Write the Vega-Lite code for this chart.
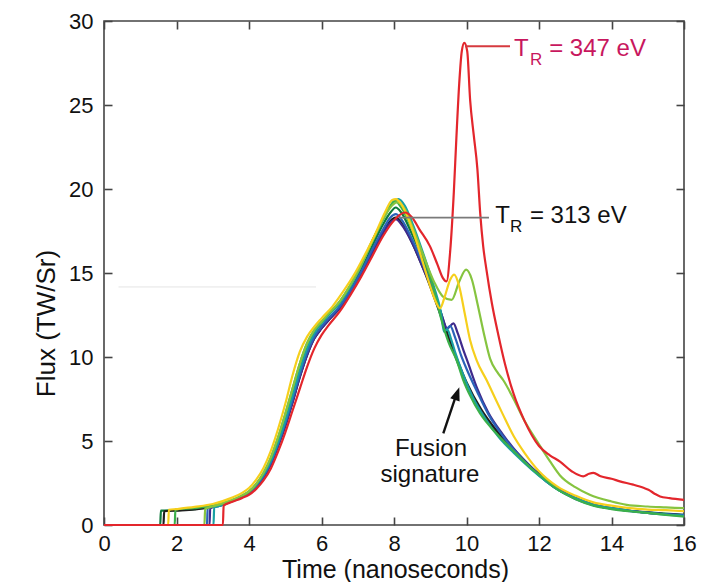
{
  "$schema": "https://vega.github.io/schema/vega-lite/v6.json",
  "width": 580,
  "height": 504,
  "autosize": {"type": "none"},
  "padding": {"left": 104, "top": 21, "right": 32, "bottom": 57},
  "background": "white",
  "config": {
    "font": "Liberation Sans",
    "view": {"stroke": "#444444", "strokeWidth": 1.6},
    "axis": {
      "grid": false,
      "domain": false,
      "tickColor": "#444444",
      "tickWidth": 1.6,
      "tickSize": -8,
      "labelFont": "Liberation Sans",
      "labelFontSize": 22,
      "labelColor": "#111111",
      "titleFont": "Liberation Sans",
      "titleFontSize": 25,
      "titleFontWeight": "normal",
      "titleColor": "#111111"
    }
  },
  "datasets": {
    "curves": [
      {"s":"darkgreen","x":0,"y":0},{"s":"darkgreen","x":1.55,"y":0},{"s":"darkgreen","x":1.57,"y":0.85},{"s":"darkgreen","x":2.0,"y":0.88},{"s":"darkgreen","x":2.5,"y":0.95},{"s":"darkgreen","x":3.0,"y":1.1},{"s":"darkgreen","x":3.5,"y":1.4},{"s":"darkgreen","x":3.8,"y":1.65},{"s":"darkgreen","x":4.0,"y":1.9},{"s":"darkgreen","x":4.2,"y":2.3},{"s":"darkgreen","x":4.4,"y":2.85},{"s":"darkgreen","x":4.6,"y":3.65},{"s":"darkgreen","x":4.8,"y":4.75},{"s":"darkgreen","x":5.0,"y":6.0},{"s":"darkgreen","x":5.2,"y":7.4},{"s":"darkgreen","x":5.4,"y":8.9},{"s":"darkgreen","x":5.6,"y":10.2},{"s":"darkgreen","x":5.8,"y":11.2},{"s":"darkgreen","x":6.0,"y":11.8},{"s":"darkgreen","x":6.2,"y":12.3},{"s":"darkgreen","x":6.5,"y":13.0},{"s":"darkgreen","x":6.8,"y":14.0},{"s":"darkgreen","x":7.1,"y":15.2},{"s":"darkgreen","x":7.4,"y":16.6},{"s":"darkgreen","x":7.7,"y":17.9},{"s":"darkgreen","x":7.9,"y":18.6},{"s":"darkgreen","x":8.05,"y":18.9},{"s":"darkgreen","x":8.2,"y":18.6},{"s":"darkgreen","x":8.5,"y":17.3},{"s":"darkgreen","x":8.8,"y":15.8},{"s":"darkgreen","x":9.1,"y":14.0},{"s":"darkgreen","x":9.3,"y":12.6},{"s":"darkgreen","x":9.5,"y":11.2},{"s":"darkgreen","x":9.75,"y":9.7},{"s":"darkgreen","x":10.0,"y":8.4},{"s":"darkgreen","x":10.4,"y":6.8},{"s":"darkgreen","x":10.8,"y":5.6},{"s":"darkgreen","x":11.3,"y":4.5},{"s":"darkgreen","x":11.8,"y":3.4},{"s":"darkgreen","x":12.2,"y":2.6},{"s":"darkgreen","x":12.6,"y":2.0},{"s":"darkgreen","x":13.0,"y":1.6},{"s":"darkgreen","x":13.5,"y":1.2},{"s":"darkgreen","x":14.0,"y":1.0},{"s":"darkgreen","x":14.5,"y":0.85},{"s":"darkgreen","x":15.0,"y":0.75},{"s":"darkgreen","x":15.5,"y":0.68},{"s":"darkgreen","x":16.0,"y":0.6},

      {"s":"black","x":0,"y":0},{"s":"black","x":1.64,"y":0},{"s":"black","x":1.66,"y":0.82},{"s":"black","x":2.0,"y":0.86},{"s":"black","x":2.5,"y":0.93},{"s":"black","x":3.0,"y":1.08},{"s":"black","x":3.5,"y":1.4},{"s":"black","x":3.8,"y":1.65},{"s":"black","x":4.0,"y":1.9},{"s":"black","x":4.2,"y":2.3},{"s":"black","x":4.4,"y":2.85},{"s":"black","x":4.6,"y":3.65},{"s":"black","x":4.8,"y":4.7},{"s":"black","x":5.0,"y":5.9},{"s":"black","x":5.2,"y":7.3},{"s":"black","x":5.4,"y":8.8},{"s":"black","x":5.6,"y":10.1},{"s":"black","x":5.8,"y":11.1},{"s":"black","x":6.0,"y":11.7},{"s":"black","x":6.2,"y":12.2},{"s":"black","x":6.5,"y":12.9},{"s":"black","x":6.8,"y":13.8},{"s":"black","x":7.1,"y":14.9},{"s":"black","x":7.4,"y":16.2},{"s":"black","x":7.7,"y":17.4},{"s":"black","x":7.9,"y":18.1},{"s":"black","x":8.05,"y":18.3},{"s":"black","x":8.2,"y":18.0},{"s":"black","x":8.5,"y":16.8},{"s":"black","x":8.8,"y":15.3},{"s":"black","x":9.1,"y":13.6},{"s":"black","x":9.3,"y":12.4},{"s":"black","x":9.5,"y":11.2},{"s":"black","x":9.75,"y":9.8},{"s":"black","x":10.0,"y":8.5},{"s":"black","x":10.4,"y":6.9},{"s":"black","x":10.8,"y":5.7},{"s":"black","x":11.3,"y":4.5},{"s":"black","x":11.8,"y":3.4},{"s":"black","x":12.2,"y":2.7},{"s":"black","x":12.6,"y":2.05},{"s":"black","x":13.0,"y":1.6},{"s":"black","x":13.5,"y":1.2},{"s":"black","x":14.0,"y":0.98},{"s":"black","x":14.5,"y":0.85},{"s":"black","x":15.0,"y":0.72},{"s":"black","x":15.5,"y":0.65},{"s":"black","x":16.0,"y":0.58},

      {"s":"purple","x":0,"y":0},{"s":"purple","x":2.91,"y":0},{"s":"purple","x":2.93,"y":1.0},{"s":"purple","x":3.2,"y":1.15},{"s":"purple","x":3.5,"y":1.4},{"s":"purple","x":3.8,"y":1.65},{"s":"purple","x":4.0,"y":1.9},{"s":"purple","x":4.2,"y":2.3},{"s":"purple","x":4.4,"y":2.85},{"s":"purple","x":4.6,"y":3.6},{"s":"purple","x":4.8,"y":4.7},{"s":"purple","x":5.0,"y":5.9},{"s":"purple","x":5.2,"y":7.3},{"s":"purple","x":5.4,"y":8.8},{"s":"purple","x":5.6,"y":10.1},{"s":"purple","x":5.8,"y":11.1},{"s":"purple","x":6.0,"y":11.7},{"s":"purple","x":6.2,"y":12.2},{"s":"purple","x":6.5,"y":12.9},{"s":"purple","x":6.8,"y":13.8},{"s":"purple","x":7.1,"y":14.9},{"s":"purple","x":7.4,"y":16.2},{"s":"purple","x":7.7,"y":17.4},{"s":"purple","x":7.9,"y":18.0},{"s":"purple","x":8.05,"y":18.2},{"s":"purple","x":8.2,"y":17.9},{"s":"purple","x":8.5,"y":16.8},{"s":"purple","x":8.8,"y":15.3},{"s":"purple","x":9.1,"y":13.8},{"s":"purple","x":9.3,"y":12.6},{"s":"purple","x":9.47,"y":11.7},{"s":"purple","x":9.64,"y":12.0},{"s":"purple","x":9.76,"y":11.4},{"s":"purple","x":9.9,"y":10.5},{"s":"purple","x":10.05,"y":9.6},{"s":"purple","x":10.3,"y":8.1},{"s":"purple","x":10.6,"y":6.7},{"s":"purple","x":11.0,"y":5.4},{"s":"purple","x":11.4,"y":4.3},{"s":"purple","x":11.8,"y":3.4},{"s":"purple","x":12.2,"y":2.65},{"s":"purple","x":12.6,"y":2.05},{"s":"purple","x":13.0,"y":1.6},{"s":"purple","x":13.5,"y":1.2},{"s":"purple","x":14.0,"y":1.0},{"s":"purple","x":14.5,"y":0.85},{"s":"purple","x":15.0,"y":0.75},{"s":"purple","x":15.5,"y":0.65},{"s":"purple","x":16.0,"y":0.6},

      {"s":"blue","x":0,"y":0},{"s":"blue","x":2.84,"y":0},{"s":"blue","x":2.86,"y":1.0},{"s":"blue","x":3.2,"y":1.15},{"s":"blue","x":3.5,"y":1.42},{"s":"blue","x":3.8,"y":1.68},{"s":"blue","x":4.0,"y":1.92},{"s":"blue","x":4.2,"y":2.32},{"s":"blue","x":4.4,"y":2.9},{"s":"blue","x":4.6,"y":3.7},{"s":"blue","x":4.8,"y":4.8},{"s":"blue","x":5.0,"y":6.05},{"s":"blue","x":5.2,"y":7.45},{"s":"blue","x":5.4,"y":8.95},{"s":"blue","x":5.6,"y":10.25},{"s":"blue","x":5.8,"y":11.2},{"s":"blue","x":6.0,"y":11.8},{"s":"blue","x":6.2,"y":12.3},{"s":"blue","x":6.5,"y":13.0},{"s":"blue","x":6.8,"y":13.95},{"s":"blue","x":7.1,"y":15.1},{"s":"blue","x":7.4,"y":16.4},{"s":"blue","x":7.7,"y":17.6},{"s":"blue","x":7.9,"y":18.3},{"s":"blue","x":8.05,"y":18.5},{"s":"blue","x":8.2,"y":18.2},{"s":"blue","x":8.5,"y":17.0},{"s":"blue","x":8.8,"y":15.5},{"s":"blue","x":9.1,"y":13.8},{"s":"blue","x":9.3,"y":12.4},{"s":"blue","x":9.42,"y":11.6},{"s":"blue","x":9.55,"y":11.85},{"s":"blue","x":9.68,"y":11.2},{"s":"blue","x":9.85,"y":10.1},{"s":"blue","x":10.0,"y":9.3},{"s":"blue","x":10.3,"y":7.9},{"s":"blue","x":10.6,"y":6.6},{"s":"blue","x":11.0,"y":5.3},{"s":"blue","x":11.4,"y":4.25},{"s":"blue","x":11.8,"y":3.35},{"s":"blue","x":12.2,"y":2.6},{"s":"blue","x":12.6,"y":2.0},{"s":"blue","x":13.0,"y":1.55},{"s":"blue","x":13.5,"y":1.18},{"s":"blue","x":14.0,"y":0.98},{"s":"blue","x":14.5,"y":0.82},{"s":"blue","x":15.0,"y":0.72},{"s":"blue","x":15.5,"y":0.64},{"s":"blue","x":16.0,"y":0.58},

      {"s":"teal","x":0,"y":0},{"s":"teal","x":3.02,"y":0},{"s":"teal","x":3.04,"y":1.05},{"s":"teal","x":3.3,"y":1.2},{"s":"teal","x":3.5,"y":1.4},{"s":"teal","x":3.8,"y":1.7},{"s":"teal","x":4.0,"y":1.95},{"s":"teal","x":4.2,"y":2.4},{"s":"teal","x":4.4,"y":3.0},{"s":"teal","x":4.6,"y":3.8},{"s":"teal","x":4.8,"y":4.9},{"s":"teal","x":5.0,"y":6.2},{"s":"teal","x":5.2,"y":7.7},{"s":"teal","x":5.4,"y":9.2},{"s":"teal","x":5.6,"y":10.5},{"s":"teal","x":5.8,"y":11.4},{"s":"teal","x":6.0,"y":12.0},{"s":"teal","x":6.2,"y":12.5},{"s":"teal","x":6.5,"y":13.2},{"s":"teal","x":6.8,"y":14.2},{"s":"teal","x":7.1,"y":15.5},{"s":"teal","x":7.4,"y":16.9},{"s":"teal","x":7.7,"y":18.2},{"s":"teal","x":7.9,"y":19.0},{"s":"teal","x":8.12,"y":19.4},{"s":"teal","x":8.3,"y":19.0},{"s":"teal","x":8.5,"y":18.0},{"s":"teal","x":8.8,"y":16.2},{"s":"teal","x":9.1,"y":14.2},{"s":"teal","x":9.3,"y":12.6},{"s":"teal","x":9.38,"y":11.5},{"s":"teal","x":9.47,"y":11.65},{"s":"teal","x":9.57,"y":11.1},{"s":"teal","x":9.7,"y":10.2},{"s":"teal","x":9.9,"y":9.0},{"s":"teal","x":10.2,"y":7.5},{"s":"teal","x":10.5,"y":6.4},{"s":"teal","x":10.9,"y":5.2},{"s":"teal","x":11.3,"y":4.3},{"s":"teal","x":11.8,"y":3.3},{"s":"teal","x":12.2,"y":2.6},{"s":"teal","x":12.6,"y":2.0},{"s":"teal","x":13.0,"y":1.6},{"s":"teal","x":13.5,"y":1.2},{"s":"teal","x":14.0,"y":1.0},{"s":"teal","x":14.5,"y":0.85},{"s":"teal","x":15.0,"y":0.72},{"s":"teal","x":15.5,"y":0.62},{"s":"teal","x":16.0,"y":0.55},

      {"s":"green","x":0,"y":0},{"s":"green","x":1.95,"y":0},{"s":"green","x":1.97,"y":0.92},{"s":"green","x":2.5,"y":1.0},{"s":"green","x":3.0,"y":1.15},{"s":"green","x":3.5,"y":1.45},{"s":"green","x":3.8,"y":1.75},{"s":"green","x":4.0,"y":2.0},{"s":"green","x":4.2,"y":2.45},{"s":"green","x":4.4,"y":3.1},{"s":"green","x":4.6,"y":4.0},{"s":"green","x":4.8,"y":5.2},{"s":"green","x":5.0,"y":6.6},{"s":"green","x":5.2,"y":8.1},{"s":"green","x":5.4,"y":9.6},{"s":"green","x":5.6,"y":10.8},{"s":"green","x":5.8,"y":11.6},{"s":"green","x":6.0,"y":12.1},{"s":"green","x":6.2,"y":12.6},{"s":"green","x":6.5,"y":13.3},{"s":"green","x":6.8,"y":14.3},{"s":"green","x":7.1,"y":15.5},{"s":"green","x":7.4,"y":16.9},{"s":"green","x":7.7,"y":18.2},{"s":"green","x":7.9,"y":19.0},{"s":"green","x":8.02,"y":19.3},{"s":"green","x":8.2,"y":18.9},{"s":"green","x":8.5,"y":17.6},{"s":"green","x":8.81,"y":16.0},{"s":"green","x":9.1,"y":14.0},{"s":"green","x":9.31,"y":12.2},{"s":"green","x":9.5,"y":10.9},{"s":"green","x":9.73,"y":9.8},{"s":"green","x":9.91,"y":8.63},{"s":"green","x":10.1,"y":7.7},{"s":"green","x":10.37,"y":6.65},{"s":"green","x":10.8,"y":5.5},{"s":"green","x":11.3,"y":4.4},{"s":"green","x":11.8,"y":3.35},{"s":"green","x":12.2,"y":2.65},{"s":"green","x":12.6,"y":2.0},{"s":"green","x":13.0,"y":1.55},{"s":"green","x":13.5,"y":1.15},{"s":"green","x":14.0,"y":0.95},{"s":"green","x":14.5,"y":0.82},{"s":"green","x":15.0,"y":0.72},{"s":"green","x":15.5,"y":0.6},{"s":"green","x":16.0,"y":0.5},

      {"s":"lightgreen","x":0,"y":0},{"s":"lightgreen","x":2.77,"y":0},{"s":"lightgreen","x":2.79,"y":0.95},{"s":"lightgreen","x":3.0,"y":1.1},{"s":"lightgreen","x":3.5,"y":1.45},{"s":"lightgreen","x":3.8,"y":1.75},{"s":"lightgreen","x":4.0,"y":2.0},{"s":"lightgreen","x":4.2,"y":2.45},{"s":"lightgreen","x":4.4,"y":3.1},{"s":"lightgreen","x":4.6,"y":4.0},{"s":"lightgreen","x":4.8,"y":5.2},{"s":"lightgreen","x":5.0,"y":6.6},{"s":"lightgreen","x":5.2,"y":8.1},{"s":"lightgreen","x":5.4,"y":9.6},{"s":"lightgreen","x":5.6,"y":10.8},{"s":"lightgreen","x":5.8,"y":11.6},{"s":"lightgreen","x":6.0,"y":12.1},{"s":"lightgreen","x":6.2,"y":12.6},{"s":"lightgreen","x":6.5,"y":13.3},{"s":"lightgreen","x":6.8,"y":14.3},{"s":"lightgreen","x":7.1,"y":15.5},{"s":"lightgreen","x":7.4,"y":16.9},{"s":"lightgreen","x":7.7,"y":18.2},{"s":"lightgreen","x":7.9,"y":18.9},{"s":"lightgreen","x":8.08,"y":19.2},{"s":"lightgreen","x":8.3,"y":18.8},{"s":"lightgreen","x":8.5,"y":17.8},{"s":"lightgreen","x":8.8,"y":16.1},{"s":"lightgreen","x":9.1,"y":14.5},{"s":"lightgreen","x":9.35,"y":13.6},{"s":"lightgreen","x":9.59,"y":13.4},{"s":"lightgreen","x":9.8,"y":14.5},{"s":"lightgreen","x":9.99,"y":15.2},{"s":"lightgreen","x":10.15,"y":14.6},{"s":"lightgreen","x":10.3,"y":13.2},{"s":"lightgreen","x":10.5,"y":11.2},{"s":"lightgreen","x":10.65,"y":9.9},{"s":"lightgreen","x":10.85,"y":9.1},{"s":"lightgreen","x":11.02,"y":8.6},{"s":"lightgreen","x":11.3,"y":7.5},{"s":"lightgreen","x":11.6,"y":6.2},{"s":"lightgreen","x":12.0,"y":4.8},{"s":"lightgreen","x":12.3,"y":3.8},{"s":"lightgreen","x":12.58,"y":2.95},{"s":"lightgreen","x":13.0,"y":2.25},{"s":"lightgreen","x":13.4,"y":1.8},{"s":"lightgreen","x":14.0,"y":1.4},{"s":"lightgreen","x":14.42,"y":1.2},{"s":"lightgreen","x":15.0,"y":1.1},{"s":"lightgreen","x":15.5,"y":1.05},{"s":"lightgreen","x":16.0,"y":1.0},

      {"s":"yellow","x":0,"y":0},{"s":"yellow","x":1.77,"y":0},{"s":"yellow","x":1.79,"y":0.9},{"s":"yellow","x":2.0,"y":0.95},{"s":"yellow","x":2.5,"y":1.08},{"s":"yellow","x":3.0,"y":1.25},{"s":"yellow","x":3.5,"y":1.6},{"s":"yellow","x":3.8,"y":1.9},{"s":"yellow","x":4.0,"y":2.2},{"s":"yellow","x":4.2,"y":2.7},{"s":"yellow","x":4.4,"y":3.4},{"s":"yellow","x":4.6,"y":4.4},{"s":"yellow","x":4.8,"y":5.7},{"s":"yellow","x":5.0,"y":7.2},{"s":"yellow","x":5.2,"y":8.9},{"s":"yellow","x":5.4,"y":10.3},{"s":"yellow","x":5.6,"y":11.2},{"s":"yellow","x":5.8,"y":11.8},{"s":"yellow","x":6.0,"y":12.3},{"s":"yellow","x":6.3,"y":13.0},{"s":"yellow","x":6.6,"y":13.9},{"s":"yellow","x":6.9,"y":14.9},{"s":"yellow","x":7.2,"y":16.1},{"s":"yellow","x":7.5,"y":17.4},{"s":"yellow","x":7.75,"y":18.6},{"s":"yellow","x":7.95,"y":19.35},{"s":"yellow","x":8.05,"y":19.4},{"s":"yellow","x":8.2,"y":19.1},{"s":"yellow","x":8.4,"y":18.2},{"s":"yellow","x":8.6,"y":17.0},{"s":"yellow","x":8.8,"y":15.6},{"s":"yellow","x":9.0,"y":14.2},{"s":"yellow","x":9.15,"y":13.3},{"s":"yellow","x":9.27,"y":12.9},{"s":"yellow","x":9.4,"y":13.6},{"s":"yellow","x":9.55,"y":14.6},{"s":"yellow","x":9.66,"y":14.9},{"s":"yellow","x":9.8,"y":14.2},{"s":"yellow","x":9.95,"y":12.6},{"s":"yellow","x":10.1,"y":11.0},{"s":"yellow","x":10.28,"y":9.8},{"s":"yellow","x":10.56,"y":8.6},{"s":"yellow","x":10.8,"y":7.5},{"s":"yellow","x":11.0,"y":6.6},{"s":"yellow","x":11.3,"y":5.3},{"s":"yellow","x":11.6,"y":4.3},{"s":"yellow","x":12.0,"y":3.2},{"s":"yellow","x":12.5,"y":2.3},{"s":"yellow","x":13.0,"y":1.75},{"s":"yellow","x":13.5,"y":1.35},{"s":"yellow","x":14.0,"y":1.15},{"s":"yellow","x":14.5,"y":1.0},{"s":"yellow","x":15.0,"y":0.92},{"s":"yellow","x":15.5,"y":0.88},{"s":"yellow","x":16.0,"y":0.82},

      {"s":"red","x":0,"y":0},{"s":"red","x":3.28,"y":0},{"s":"red","x":3.3,"y":1.15},{"s":"red","x":3.5,"y":1.35},{"s":"red","x":3.8,"y":1.6},{"s":"red","x":4.0,"y":1.8},{"s":"red","x":4.2,"y":2.15},{"s":"red","x":4.4,"y":2.65},{"s":"red","x":4.6,"y":3.35},{"s":"red","x":4.8,"y":4.35},{"s":"red","x":5.0,"y":5.5},{"s":"red","x":5.2,"y":6.8},{"s":"red","x":5.4,"y":8.1},{"s":"red","x":5.6,"y":9.4},{"s":"red","x":5.8,"y":10.5},{"s":"red","x":6.0,"y":11.3},{"s":"red","x":6.2,"y":11.9},{"s":"red","x":6.5,"y":12.7},{"s":"red","x":6.8,"y":13.7},{"s":"red","x":7.1,"y":14.8},{"s":"red","x":7.4,"y":16.0},{"s":"red","x":7.7,"y":17.2},{"s":"red","x":7.95,"y":18.0},{"s":"red","x":8.15,"y":18.45},{"s":"red","x":8.3,"y":18.6},{"s":"red","x":8.5,"y":18.3},{"s":"red","x":8.7,"y":17.6},{"s":"red","x":8.99,"y":16.6},{"s":"red","x":9.2,"y":15.5},{"s":"red","x":9.35,"y":14.7},{"s":"red","x":9.45,"y":14.5},{"s":"red","x":9.55,"y":16.3},{"s":"red","x":9.65,"y":19.8},{"s":"red","x":9.72,"y":23.0},{"s":"red","x":9.8,"y":26.3},{"s":"red","x":9.87,"y":28.2},{"s":"red","x":9.94,"y":28.7},{"s":"red","x":10.02,"y":28.2},{"s":"red","x":10.1,"y":25.3},{"s":"red","x":10.2,"y":23.2},{"s":"red","x":10.3,"y":21.2},{"s":"red","x":10.38,"y":18.5},{"s":"red","x":10.46,"y":16.6},{"s":"red","x":10.55,"y":15.2},{"s":"red","x":10.7,"y":13.2},{"s":"red","x":10.88,"y":11.3},{"s":"red","x":11.06,"y":9.6},{"s":"red","x":11.3,"y":7.8},{"s":"red","x":11.6,"y":6.2},{"s":"red","x":12.0,"y":4.7},{"s":"red","x":12.3,"y":4.15},{"s":"red","x":12.58,"y":3.77},{"s":"red","x":12.9,"y":3.2},{"s":"red","x":13.22,"y":2.9},{"s":"red","x":13.38,"y":3.05},{"s":"red","x":13.5,"y":3.1},{"s":"red","x":13.7,"y":2.9},{"s":"red","x":14.0,"y":2.75},{"s":"red","x":14.23,"y":2.6},{"s":"red","x":14.6,"y":2.4},{"s":"red","x":14.9,"y":2.2},{"s":"red","x":15.02,"y":2.1},{"s":"red","x":15.2,"y":1.85},{"s":"red","x":15.34,"y":1.7},{"s":"red","x":15.6,"y":1.6},{"s":"red","x":16.0,"y":1.5}
    ]
  },
  "layer": [
    {
      "data": {"values": [{"x": 0.4, "x2": 5.85, "y": 14.17}]},
      "mark": {"type": "rule", "color": "#e4e4e4", "strokeWidth": 1},
      "encoding": {
        "x": {"field": "x", "type": "quantitative", "axis": null},
        "x2": {"field": "x2"},
        "y": {"field": "y", "type": "quantitative", "axis": null}
      }
    },
    {
      "data": {"name": "curves"},
      "mark": {"type": "line", "interpolate": "monotone", "strokeWidth": 2.2},
      "encoding": {
        "x": {
          "field": "x", "type": "quantitative",
          "scale": {"domain": [0, 16], "nice": false, "zero": false},
          "axis": {"orient": "bottom", "values": [0, 2, 4, 6, 8, 10, 12, 14, 16], "labelPadding": 16, "title": "Time (nanoseconds)", "titleX": 291, "titleY": 44, "titleBaseline": "middle", "labelFlush": false}
        },
        "y": {
          "field": "y", "type": "quantitative",
          "scale": {"domain": [0, 30], "nice": false},
          "axis": {"orient": "left", "values": [0, 5, 10, 15, 20, 25, 30], "labelPadding": 19, "title": "Flux (TW/Sr)", "titleFontSize": 26, "titleX": -58, "titleY": 302, "titleAngle": -90, "titleAlign": "center", "titleBaseline": "middle"}
        },
        "color": {
          "field": "s", "type": "nominal", "legend": null,
          "sort": ["darkgreen", "black", "purple", "blue", "teal", "green", "lightgreen", "yellow", "red"],
          "scale": {
            "domain": ["darkgreen", "black", "purple", "blue", "teal", "green", "lightgreen", "yellow", "red"],
            "range": ["#0f7a3c", "#1f1f1f", "#3f2a8c", "#2b62b8", "#19a0a3", "#3bb04a", "#86c440", "#f6cf1c", "#e3262c"]
          }
        }
      }
    },
    {
      "data": {"values": [{"x": 8.15, "x2": 10.62, "y": 18.3}]},
      "mark": {"type": "rule", "color": "#7a7a7a", "strokeWidth": 1.8},
      "encoding": {
        "x": {"field": "x", "type": "quantitative", "axis": {"orient": "top", "values": [0, 2, 4, 6, 8, 10, 12, 14, 16], "labels": false, "title": null}},
        "x2": {"field": "x2"},
        "y": {"field": "y", "type": "quantitative", "axis": {"orient": "right", "values": [0, 5, 10, 15, 20, 25, 30], "labels": false, "title": null}}
      }
    },
    {
      "data": {"values": [{"x": 9.96, "x2": 11.2, "y": 28.5}]},
      "mark": {"type": "rule", "color": "#d63a3f", "strokeWidth": 2},
      "encoding": {
        "x": {"field": "x", "type": "quantitative", "axis": null},
        "x2": {"field": "x2"},
        "y": {"field": "y", "type": "quantitative", "axis": null}
      }
    },
    {
      "data": {"values": [{"x": 9.36, "y": 5.46, "x2": 9.74, "y2": 7.9}]},
      "mark": {"type": "rule", "color": "#111111", "strokeWidth": 2.4},
      "encoding": {
        "x": {"field": "x", "type": "quantitative", "axis": null},
        "y": {"field": "y", "type": "quantitative", "axis": null},
        "x2": {"field": "x2"},
        "y2": {"field": "y2"}
      }
    },
    {
      "data": {"values": [{"x": 9.738, "y": 7.8}]},
      "mark": {"type": "point", "shape": "M0,-1L0.7,0.9L-0.7,0.9Z", "filled": true, "color": "#111111", "opacity": 1, "size": 200, "angle": 19},
      "encoding": {
        "x": {"field": "x", "type": "quantitative", "axis": null},
        "y": {"field": "y", "type": "quantitative", "axis": null}
      }
    },
    {
      "data": {"values": [{"x": 10.79, "y": 18.39, "t": "T"}, {"x": 11.75, "y": 18.39, "t": "= 313 eV"}]},
      "mark": {"type": "text", "align": "left", "baseline": "middle", "fontSize": 24, "color": "#111111", "font": "Liberation Sans"},
      "encoding": {
        "x": {"field": "x", "type": "quantitative", "axis": null},
        "y": {"field": "y", "type": "quantitative", "axis": null},
        "text": {"field": "t"}
      }
    },
    {
      "data": {"values": [{"x": 11.2, "y": 17.75, "t": "R"}]},
      "mark": {"type": "text", "align": "left", "baseline": "middle", "fontSize": 17, "color": "#111111", "font": "Liberation Sans"},
      "encoding": {
        "x": {"field": "x", "type": "quantitative", "axis": null},
        "y": {"field": "y", "type": "quantitative", "axis": null},
        "text": {"field": "t"}
      }
    },
    {
      "data": {"values": [{"x": 11.31, "y": 28.33, "t": "T"}, {"x": 12.28, "y": 28.33, "t": "= 347 eV"}]},
      "mark": {"type": "text", "align": "left", "baseline": "middle", "fontSize": 24, "color": "#c8175e", "font": "Liberation Sans"},
      "encoding": {
        "x": {"field": "x", "type": "quantitative", "axis": null},
        "y": {"field": "y", "type": "quantitative", "axis": null},
        "text": {"field": "t"}
      }
    },
    {
      "data": {"values": [{"x": 11.75, "y": 27.68, "t": "R"}]},
      "mark": {"type": "text", "align": "left", "baseline": "middle", "fontSize": 17, "color": "#c8175e", "font": "Liberation Sans"},
      "encoding": {
        "x": {"field": "x", "type": "quantitative", "axis": null},
        "y": {"field": "y", "type": "quantitative", "axis": null},
        "text": {"field": "t"}
      }
    },
    {
      "data": {"values": [{"x": 9.02, "y": 4.52, "t": "Fusion"}, {"x": 8.99, "y": 2.98, "t": "signature"}]},
      "mark": {"type": "text", "align": "center", "baseline": "middle", "fontSize": 24, "color": "#111111", "font": "Liberation Sans"},
      "encoding": {
        "x": {"field": "x", "type": "quantitative", "axis": null},
        "y": {"field": "y", "type": "quantitative", "axis": null},
        "text": {"field": "t"}
      }
    }
  ],
  "resolve": {"axis": {"x": "independent", "y": "independent"}}
}
